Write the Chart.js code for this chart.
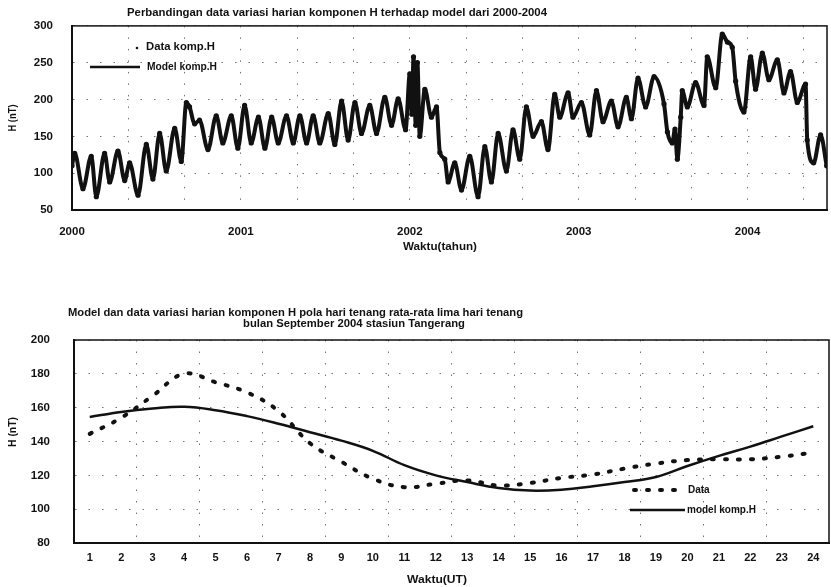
<!DOCTYPE html>
<html>
<head>
<meta charset="utf-8">
<script src="https://cdn.jsdelivr.net/npm/chart.js@4.4.1/dist/chart.umd.min.js"></script>
<style>
  html, body { margin: 0; padding: 0; background: #fff; }
  #wrap { position: relative; width: 831px; height: 587px; overflow: hidden; }
  canvas { position: absolute; left: 0; }
  #grafikTahunan { top: 0; }
  #grafikHarian { top: 295px; }
</style>
</head>
<body>
<div id="wrap">
  <canvas id="grafikTahunan" width="831" height="260"></canvas>
  <canvas id="grafikHarian" width="831" height="292"></canvas>
</div>
<script>
// --- data grafik atas: titik balik komponen H 2000-2004 ---
const tahunH = [
  2000.000, 2000.016, 2000.065, 2000.114, 2000.144, 2000.193, 2000.223, 2000.272, 2000.312, 2000.341,
  2000.391, 2000.440, 2000.479, 2000.519, 2000.558, 2000.608, 2000.647, 2000.677, 2000.696, 2000.726,
  2000.755, 2000.805, 2000.854, 2000.893, 2000.943, 2000.982, 2001.022, 2001.061, 2001.104, 2001.142,
  2001.182, 2001.221, 2001.270, 2001.310, 2001.349, 2001.389, 2001.428, 2001.467, 2001.517, 2001.556,
  2001.596, 2001.635, 2001.675, 2001.714, 2001.763, 2001.803, 2001.852, 2001.892, 2001.931, 2001.975,
  2002.000, 2002.012, 2002.022, 2002.035, 2002.045, 2002.059, 2002.089, 2002.128, 2002.158, 2002.178,
  2002.207, 2002.227, 2002.266, 2002.306, 2002.355, 2002.404, 2002.444, 2002.483, 2002.523, 2002.572,
  2002.611, 2002.651, 2002.690, 2002.730, 2002.779, 2002.818, 2002.858, 2002.888, 2002.937, 2002.966,
  2003.016, 2003.065, 2003.105, 2003.144, 2003.193, 2003.233, 2003.282, 2003.312, 2003.351, 2003.396,
  2003.446, 2003.505, 2003.525, 2003.554, 2003.570, 2003.584, 2003.604, 2003.613, 2003.643, 2003.692,
  2003.742, 2003.761, 2003.811, 2003.850, 2003.880, 2003.909, 2003.929, 2003.978, 2004.018, 2004.047,
  2004.087, 2004.126, 2004.176, 2004.215, 2004.254, 2004.294, 2004.343, 2004.353, 2004.391, 2004.432,
  2004.468
];
const nilaiH = [
  110, 127, 79, 123, 68, 127, 88, 130, 90, 114,
  70, 139, 92, 154, 103, 161, 116, 196, 190, 167,
  172, 132, 178, 141, 178, 134, 192, 141, 176, 134,
  176, 141, 178, 141, 178, 141, 178, 141, 181, 139,
  198, 145, 196, 154, 192, 154, 203, 165, 201, 159,
  235, 180, 258, 165, 250, 150, 214, 176, 190, 128,
  119, 88, 114, 77, 123, 68, 136, 88, 154, 103,
  159, 119, 190, 150, 170, 132, 207, 176, 209, 176,
  196, 152, 212, 170, 198, 163, 203, 174, 229, 190,
  231, 194, 156, 141, 160, 119, 176, 212, 190, 223,
  192, 258, 216, 289, 278, 271, 225, 183, 258, 214,
  263, 227, 254, 209, 238, 196, 221, 145, 114, 152,
  110
];
const labelTahun = [2000, 2001, 2002, 2003, 2004];

// --- data grafik bawah: rata-rata lima hari tenang September 2004, Tangerang ---
const jamUT = ['1','2','3','4','5','6','7','8','9','10','11','12','13','14','15','16','17','18','19','20','21','22','23','24'];
const dataJam = [144.5, 154, 167, 180, 175, 169, 158, 139, 128, 118, 113, 115, 117, 114, 115.5, 118.5, 120.5, 124, 127, 129, 129.5, 129.5, 131, 133.5];
const modelJam = [154.5, 157.5, 159.5, 160.5, 158.5, 155, 150.5, 145.5, 140.5, 134.5, 126, 120, 116, 112.5, 111, 111.5, 113.5, 116, 119, 125.5, 131.5, 137, 143, 149];

const FONT = "'Liberation Sans', Arial, sans-serif";
const HITAM = '#111';
const GRID = 'rgba(0,0,0,0.55)';

// tulis teks dengan lebar dipaskan ke lebar pada gambar
function teks(ctx, str, x, y, lebar, ukuran, opsi = {}) {
    ctx.save();
    ctx.font = `${opsi.tipis ? '' : 'bold '}${ukuran}px ${FONT}`;
    ctx.fillStyle = HITAM;
    ctx.textBaseline = 'middle';
    const w = ctx.measureText(str).width;
    ctx.translate(x, y);
    if (opsi.putar) ctx.rotate(-Math.PI / 2);
    ctx.scale(lebar ? lebar / w : 1, 1);
    ctx.fillText(str, opsi.putar ? -w / 2 : 0, 0);
    ctx.restore();
}

function bingkai(chart) {
    const { ctx, chartArea: a } = chart;
    ctx.save();
    ctx.strokeStyle = HITAM;
    ctx.lineWidth = 1.5;
    ctx.strokeRect(a.left, a.top, a.right - a.left, a.bottom - a.top);
    ctx.restore();
}

function garis(ctx, x1, x2, y, lebar, dash) {
    ctx.save();
    ctx.strokeStyle = HITAM;
    ctx.lineWidth = lebar;
    ctx.lineCap = dash ? 'round' : 'butt';
    ctx.setLineDash(dash || []);
    ctx.beginPath();
    ctx.moveTo(x1, y);
    ctx.lineTo(x2, y);
    ctx.stroke();
    ctx.restore();
}

const hiasanAtas = {
    id: 'hiasanAtas',
    afterDraw(chart) {
        const ctx = chart.ctx;
        bingkai(chart);
        teks(ctx, 'Perbandingan data variasi harian komponen H terhadap model dari 2000-2004', 127, 13, 420, 10);
        teks(ctx, 'H (nT)', 13, 118, 27, 10, { putar: true });
        teks(ctx, 'Waktu(tahun)', 403, 247, 74, 10);
        ctx.save();
        ctx.fillStyle = HITAM;
        ctx.beginPath();
        ctx.arc(137, 48, 1.3, 0, Math.PI * 2);
        ctx.fill();
        ctx.restore();
        garis(ctx, 90, 140, 67, 2.5);
        teks(ctx, 'Data komp.H', 146, 47, 69, 10);
        teks(ctx, 'Model komp.H', 147, 67, 70, 10);
    }
};

const hiasanBawah = {
    id: 'hiasanBawah',
    afterDraw(chart) {
        const ctx = chart.ctx;
        bingkai(chart);
        teks(ctx, 'Model dan data variasi harian komponen H pola hari tenang rata-rata lima hari tenang', 68, 18, 455, 10);
        teks(ctx, 'bulan September 2004 stasiun Tangerang', 243, 29, 222, 10);
        teks(ctx, 'H (nT)', 13, 137, 30, 10, { putar: true });
        teks(ctx, 'Waktu(UT)', 407, 285, 60, 10);
        garis(ctx, 634, 684, 195, 4, [2, 11]);
        teks(ctx, 'Data', 688, 195, 0, 10);
        garis(ctx, 630, 685, 215, 2.5);
        teks(ctx, 'model komp.H', 687, 215, 0, 10);
    }
};

const tickFont = { family: FONT, size: 11.5, weight: 'bold' };

new Chart('grafikTahunan', {
    type: 'line',
    data: {
        datasets: [
            {
                label: 'Model komp.H',
                data: tahunH.map((t, i) => ({ x: t, y: nilaiH[i] })),
                borderColor: HITAM,
                borderWidth: 4,
                pointRadius: 0,
                cubicInterpolationMode: 'monotone'
            },
            {
                label: 'Data komp.H',
                data: tahunH.map((t, i) => ({ x: t, y: nilaiH[i] })),
                showLine: false,
                pointRadius: 2.6,
                pointBackgroundColor: HITAM,
                pointBorderWidth: 0
            }
        ]
    },
    options: {
        responsive: false,
        devicePixelRatio: 1,
        animation: false,
        layout: { padding: { top: 23, right: 3, left: 0, bottom: 0 } },
        plugins: { legend: { display: false }, tooltip: { enabled: false } },
        scales: {
            x: {
                type: 'linear',
                min: 2000,
                max: 2004.47,
                afterBuildTicks: s => {
                    const t = [];
                    for (let k = 0; 2000 + k / 3 <= 2004.47; k++) t.push({ value: 2000 + k / 3 });
                    s.ticks = t;
                },
                afterFit: s => { s.height = 50; },
                ticks: {
                    autoSkip: false, maxRotation: 0, padding: 15, color: HITAM, font: tickFont,
                    callback: v => {
                        const r = Math.round(v);
                        return Math.abs(v - r) < 1e-6 && labelTahun.includes(r) ? String(r) : '';
                    }
                },
                grid: { color: GRID, lineWidth: 1, drawTicks: false },
                border: { color: HITAM, width: 2, dash: [1.5, 10] }
            },
            y: {
                min: 50, max: 300,
                afterFit: s => { s.width = 72; },
                ticks: { stepSize: 50, padding: 19, color: HITAM, font: tickFont },
                grid: { color: GRID, lineWidth: 1, drawTicks: false },
                border: { color: HITAM, width: 2, dash: [1.5, 12] }
            }
        }
    },
    plugins: [hiasanAtas]
});

new Chart('grafikHarian', {
    type: 'line',
    data: {
        labels: jamUT,
        datasets: [
            {
                label: 'Data',
                data: dataJam,
                borderColor: HITAM,
                borderWidth: 4,
                borderDash: [2, 11],
                borderCapStyle: 'round',
                pointRadius: 0,
                tension: 0.4
            },
            {
                label: 'model komp.H',
                data: modelJam,
                borderColor: HITAM,
                borderWidth: 2.5,
                pointRadius: 0,
                tension: 0.4
            }
        ]
    },
    options: {
        responsive: false,
        devicePixelRatio: 1,
        animation: false,
        layout: { padding: { top: 45, right: 2, left: 0, bottom: 0 } },
        plugins: { legend: { display: false }, tooltip: { enabled: false } },
        scales: {
            x: {
                offset: true,
                afterFit: s => { s.height = 44; },
                ticks: { autoSkip: false, maxRotation: 0, padding: 8, color: HITAM, font: { family: FONT, size: 11, weight: 'bold' } },
                grid: {
                    offset: true,
                    drawTicks: false,
                    color: c => (c.index % 2 === 0 ? GRID : 'rgba(0,0,0,0)')
                },
                border: { color: HITAM, width: 2, dash: [1.5, 10] }
            },
            y: {
                min: 80, max: 200,
                afterFit: s => { s.width = 74; },
                ticks: { stepSize: 20, padding: 24, color: HITAM, font: tickFont },
                grid: { color: GRID, lineWidth: 1, drawTicks: false },
                border: { color: HITAM, width: 2, dash: [1.5, 12] }
            }
        }
    },
    plugins: [hiasanBawah]
});
</script>
</body>
</html>
